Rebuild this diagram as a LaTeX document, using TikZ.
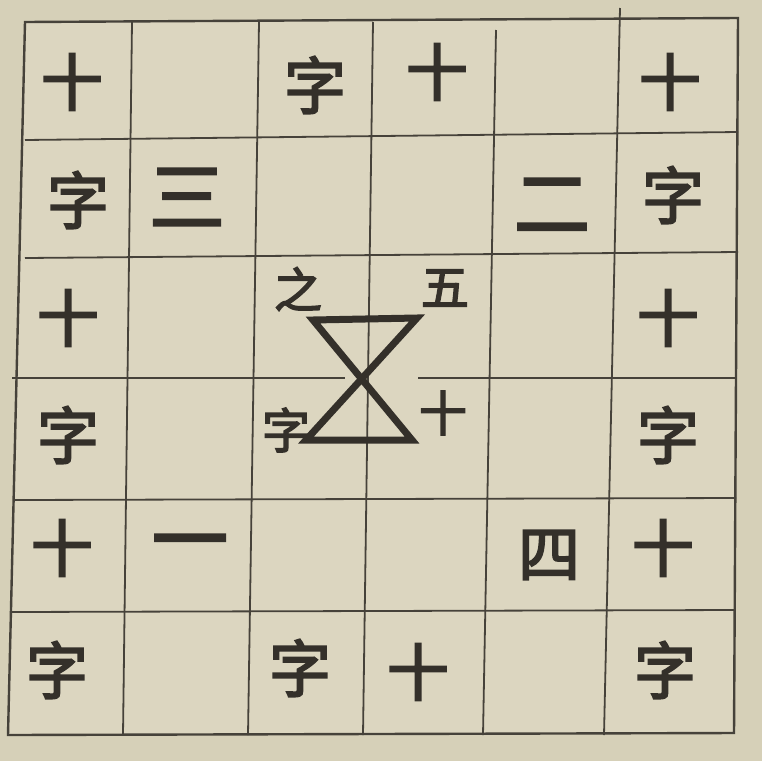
\documentclass[tikz,border=0pt]{standalone}
\usepackage{fontspec}
\newfontfamily\cjk[FakeBold=3]{Noto Sans CJK SC}
\definecolor{paper}{RGB}{214,208,184}
\definecolor{cellpaper}{RGB}{220,214,192}
\definecolor{ink}{RGB}{52,48,42}
\definecolor{rule}{RGB}{70,66,58}
\begin{document}
\begin{tikzpicture}[x=1pt,y=-1pt,
  gridline/.style={draw=rule,line width=1.8pt},
  border/.style={draw=rule,line width=2.4pt},
  hg/.style={draw=ink,line width=7pt,line join=miter},
  big/.style={text=ink,inner sep=0pt,font=\cjk\fontsize{62}{62}\selectfont},
  mid/.style={text=ink,inner sep=0pt,font=\cjk\fontsize{76}{76}\selectfont},
  small/.style={text=ink,inner sep=0pt,font=\cjk\fontsize{48}{48}\selectfont}]
\fill[paper] (0,0) rectangle (762,761);
\useasboundingbox (0,0) rectangle (762,761);
\fill[cellpaper] (25,22) -- (738,18) -- (734,733) -- (8,735) -- cycle;
% vertical lines
\draw[gridline] (132,22) -- (123,735);
\draw[gridline] (259,22) -- (248,735);
\draw[gridline] (373,22) -- (363,735);
\draw[gridline] (496,30) -- (483,735);
\draw[gridline] (620,8) -- (604,735);
% horizontal lines
\draw[gridline] (25,140) -- (738,132);
\draw[gridline] (25,258) -- (738,252);
\draw[gridline] (12,378) -- (345,378);
\draw[gridline] (418,378) -- (736,378);
\draw[gridline] (15,500) -- (736,498);
\draw[gridline] (10,612) -- (735,610);
% border
\draw[border] (25,22) -- (738,18) -- (734,733) -- (8,735) -- cycle;
% hourglass
\coordinate (tl) at (313,320);
\coordinate (tr) at (417,318);
\coordinate (bl) at (306,440);
\coordinate (br) at (412,440);
\draw[hg] (tl) -- (tr) -- (bl) -- (br) -- cycle;
% row 1
\node[big]   (r1a) at (72,82)  {十};
\node[big]   (r1c) at (315,85) {字};
\node[big]   (r1d) at (437,72) {十};
\node[big]   (r1f) at (670,82) {十};
% row 2
\node[big]   (r2a) at (78,200)  {字};
\node[mid]   (r2b) at (187,197) {三};
\node[mid]   (r2e) at (552,205) {二};
\node[big]   (r2f) at (673,195) {字};
% row 3
\node[big]   (r3a) at (68,318)  {十};
\node[small] (r3c) at (298,289) {之};
\node[small] (r3d) at (445,288) {五};
\node[big]   (r3f) at (668,318) {十};
% row 4
\node[big]   (r4a) at (68,435)  {字};
\node[small] (r4c) at (286,430) {字};
\node[small] (r4d) at (443,413) {十};
\node[big]   (r4f) at (668,435) {字};
% row 5
\node[big]   (r5a) at (62,548)  {十};
\node[mid]   (r5b) at (190,551) {一};
\node[big]   (r5e) at (549,555) {四};
\node[big]   (r5f) at (663,548) {十};
% row 6
\node[big]   (r6a) at (57,670)  {字};
\node[big]   (r6c) at (300,668) {字};
\node[big]   (r6d) at (418,672) {十};
\node[big]   (r6f) at (665,670) {字};
\end{tikzpicture}
\end{document}
